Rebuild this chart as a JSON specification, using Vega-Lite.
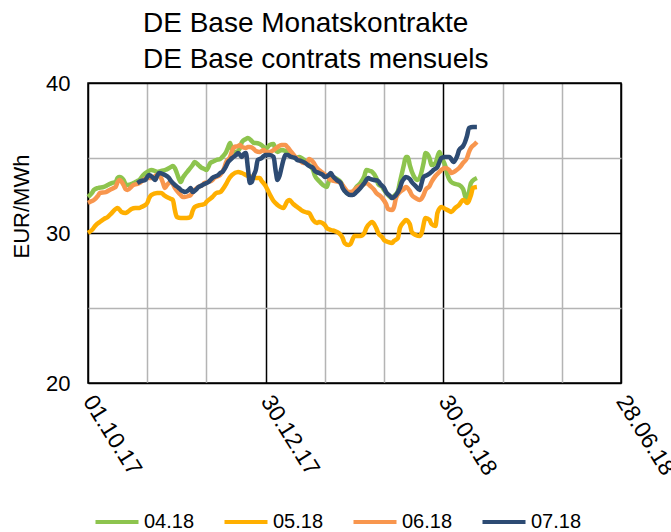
{
"$schema":"https://vega.github.io/schema/vega-lite/v6.json",
"width":533,"height":300,
"autosize":{"type":"none"},
"padding":{"left":88,"top":83,"right":50,"bottom":149},
"background":"white",
"config":{"font":"Liberation Sans","view":{"stroke":"black","strokeWidth":1.5}},
"title":{"text":["DE Base Monatskontrakte","DE Base contrats mensuels"],"anchor":"start","frame":"group","dx":55,"fontSize":28,"fontWeight":"normal","lineHeight":36,"color":"black","offset":-2},
"datasets":{
"g":[
["2017-10-01",32.4],["2017-10-03",32.67],["2017-10-04",32.87],["2017-10-06",33.0],["2017-10-09",33.07],["2017-10-11",33.2],["2017-10-13",33.33],["2017-10-15",33.4],["2017-10-16",33.67],["2017-10-17",33.73],["2017-10-19",33.53],["2017-10-20",33.27],["2017-10-21",33.2],["2017-10-24",33.33],["2017-10-26",33.47],["2017-10-27",33.53],["2017-10-29",33.87],["2017-10-31",34.07],["2017-11-02",34.2],["2017-11-04",34.13],["2017-11-05",34.07],["2017-11-07",34.13],["2017-11-09",34.2],["2017-11-12",34.4],["2017-11-13",34.47],["2017-11-14",34.33],["2017-11-15",34.0],["2017-11-17",33.4],["2017-11-18",33.67],["2017-11-19",33.87],["2017-11-21",34.2],["2017-11-23",34.53],["2017-11-24",34.73],["2017-11-26",34.53],["2017-11-27",34.4],["2017-11-29",34.27],["2017-11-30",34.2],["2017-12-02",34.67],["2017-12-04",34.8],["2017-12-05",34.87],["2017-12-07",34.93],["2017-12-08",35.07],["2017-12-10",35.4],["2017-12-11",35.73],["2017-12-12",36.0],["2017-12-13",35.53],["2017-12-15",35.4],["2017-12-17",35.67],["2017-12-18",36.07],["2017-12-20",36.27],["2017-12-21",36.33],["2017-12-23",36.13],["2017-12-24",36.0],["2017-12-25",36.0],["2017-12-27",35.93],["2017-12-29",35.73],["2017-12-30",35.6],["2018-01-01",35.87],["2018-01-03",35.93],["2018-01-04",35.53],["2018-01-05",35.4],["2018-01-07",35.53],["2018-01-09",35.47],["2018-01-11",35.33],["2018-01-12",35.2],["2018-01-14",35.0],["2018-01-16",35.07],["2018-01-19",34.8],["2018-01-21",34.53],["2018-01-23",34.2],["2018-01-24",33.8],["2018-01-26",33.47],["2018-01-28",33.2],["2018-01-30",33.07],["2018-01-31",33.47],["2018-02-02",33.73],["2018-02-04",33.6],["2018-02-06",33.4],["2018-02-08",32.87],["2018-02-09",32.67],["2018-02-11",32.6],["2018-02-12",32.67],["2018-02-14",33.07],["2018-02-16",33.33],["2018-02-18",33.8],["2018-02-19",34.2],["2018-02-21",34.13],["2018-02-22",34.07],["2018-02-24",33.67],["2018-02-25",33.27],["2018-02-27",33.07],["2018-02-28",32.87],["2018-03-02",32.53],["2018-03-04",32.33],["2018-03-05",32.47],["2018-03-07",32.8],["2018-03-08",33.4],["2018-03-10",34.53],["2018-03-11",35.07],["2018-03-12",35.07],["2018-03-13",34.53],["2018-03-15",33.8],["2018-03-17",33.53],["2018-03-18",33.67],["2018-03-20",34.67],["2018-03-21",35.33],["2018-03-23",35.0],["2018-03-24",34.53],["2018-03-26",34.67],["2018-03-28",35.4],["2018-03-29",35.07],["2018-03-31",34.47],["2018-04-01",33.93],["2018-04-03",33.4],["2018-04-05",33.27],["2018-04-07",33.2],["2018-04-09",32.93],["2018-04-10",32.47],["2018-04-11",32.2],["2018-04-12",32.73],["2018-04-13",33.33],["2018-04-15",33.6],["2018-04-16",33.67]],
"y":[
["2017-10-01",30.0],["2017-10-03",30.2],["2017-10-05",30.53],["2017-10-07",30.73],["2017-10-09",30.93],["2017-10-11",31.07],["2017-10-13",31.33],["2017-10-15",31.6],["2017-10-16",31.67],["2017-10-18",31.4],["2017-10-20",31.33],["2017-10-21",31.4],["2017-10-23",31.6],["2017-10-25",31.67],["2017-10-27",31.67],["2017-10-28",31.73],["2017-10-30",31.87],["2017-10-31",32.0],["2017-11-01",32.33],["2017-11-02",32.53],["2017-11-05",32.67],["2017-11-07",32.67],["2017-11-09",32.47],["2017-11-10",32.4],["2017-11-12",32.27],["2017-11-13",32.2],["2017-11-14",31.53],["2017-11-15",31.07],["2017-11-17",31.0],["2017-11-19",31.0],["2017-11-20",31.0],["2017-11-22",31.07],["2017-11-23",31.47],["2017-11-24",31.73],["2017-11-27",31.87],["2017-11-29",31.93],["2017-11-30",32.07],["2017-12-03",32.4],["2017-12-05",32.67],["2017-12-07",32.73],["2017-12-08",32.87],["2017-12-10",33.27],["2017-12-11",33.53],["2017-12-13",33.87],["2017-12-16",34.07],["2017-12-18",34.0],["2017-12-21",33.8],["2017-12-23",33.73],["2017-12-25",33.67],["2017-12-27",33.67],["2017-12-28",33.47],["2017-12-30",33.13],["2018-01-01",32.6],["2018-01-03",32.13],["2018-01-05",31.87],["2018-01-08",31.67],["2018-01-10",32.13],["2018-01-11",32.2],["2018-01-13",31.93],["2018-01-15",31.73],["2018-01-17",31.53],["2018-01-19",31.4],["2018-01-21",31.33],["2018-01-23",30.87],["2018-01-25",30.67],["2018-01-26",30.73],["2018-01-29",30.53],["2018-01-30",30.33],["2018-02-01",30.2],["2018-02-03",30.13],["2018-02-05",30.0],["2018-02-07",29.67],["2018-02-08",29.33],["2018-02-10",29.2],["2018-02-11",29.27],["2018-02-13",29.8],["2018-02-15",29.8],["2018-02-16",29.8],["2018-02-18",30.0],["2018-02-19",30.33],["2018-02-21",30.67],["2018-02-22",30.73],["2018-02-24",30.33],["2018-02-25",30.0],["2018-02-27",29.73],["2018-02-28",29.53],["2018-03-02",29.4],["2018-03-04",29.33],["2018-03-05",29.47],["2018-03-07",29.67],["2018-03-08",30.33],["2018-03-10",30.73],["2018-03-11",30.87],["2018-03-13",30.6],["2018-03-14",30.07],["2018-03-16",29.87],["2018-03-18",29.8],["2018-03-19",30.0],["2018-03-21",31.0],["2018-03-23",30.87],["2018-03-24",30.6],["2018-03-26",30.47],["2018-03-27",31.33],["2018-03-29",31.73],["2018-03-31",31.6],["2018-04-02",31.47],["2018-04-03",31.4],["2018-04-05",31.67],["2018-04-07",31.87],["2018-04-09",32.2],["2018-04-10",32.13],["2018-04-11",32.0],["2018-04-13",32.53],["2018-04-14",33.0],["2018-04-16",33.07]],
"o":[
["2017-10-01",32.0],["2017-10-03",32.13],["2017-10-04",32.2],["2017-10-06",32.47],["2017-10-07",32.67],["2017-10-10",32.73],["2017-10-12",32.87],["2017-10-14",33.0],["2017-10-15",33.07],["2017-10-16",33.4],["2017-10-17",33.53],["2017-10-19",33.2],["2017-10-20",32.93],["2017-10-21",32.87],["2017-10-24",33.2],["2017-10-26",33.27],["2017-10-27",33.33],["2017-10-29",33.53],["2017-10-31",33.67],["2017-11-01",33.67],["2017-11-03",33.67],["2017-11-04",33.8],["2017-11-05",33.87],["2017-11-07",33.67],["2017-11-08",33.33],["2017-11-09",33.0],["2017-11-10",33.2],["2017-11-12",33.4],["2017-11-13",33.27],["2017-11-14",33.0],["2017-11-16",32.67],["2017-11-17",32.53],["2017-11-18",32.4],["2017-11-19",32.4],["2017-11-21",32.47],["2017-11-22",32.53],["2017-11-23",32.73],["2017-11-24",32.87],["2017-11-26",33.07],["2017-11-28",33.2],["2017-11-29",33.33],["2017-12-01",33.4],["2017-12-03",33.53],["2017-12-04",33.67],["2017-12-07",33.87],["2017-12-09",34.33],["2017-12-10",34.73],["2017-12-12",35.07],["2017-12-13",35.47],["2017-12-14",35.73],["2017-12-16",35.8],["2017-12-17",35.87],["2017-12-18",35.73],["2017-12-20",35.67],["2017-12-21",35.73],["2017-12-22",35.73],["2017-12-24",35.6],["2017-12-25",35.47],["2017-12-27",35.4],["2017-12-29",35.53],["2017-12-30",35.4],["2018-01-01",35.4],["2018-01-03",35.53],["2018-01-05",35.73],["2018-01-07",35.87],["2018-01-09",35.87],["2018-01-10",35.73],["2018-01-12",35.4],["2018-01-14",35.07],["2018-01-16",34.87],["2018-01-18",34.67],["2018-01-20",34.67],["2018-01-21",34.93],["2018-01-23",34.73],["2018-01-25",34.33],["2018-01-26",34.2],["2018-01-28",34.0],["2018-01-30",33.8],["2018-02-01",33.53],["2018-02-03",33.47],["2018-02-05",33.4],["2018-02-06",33.33],["2018-02-08",33.0],["2018-02-10",32.73],["2018-02-11",32.73],["2018-02-13",32.87],["2018-02-14",33.0],["2018-02-16",33.13],["2018-02-18",33.27],["2018-02-19",33.33],["2018-02-21",33.13],["2018-02-23",32.87],["2018-02-24",32.67],["2018-02-26",32.47],["2018-02-27",32.33],["2018-03-01",31.93],["2018-03-02",31.6],["2018-03-04",31.53],["2018-03-05",31.73],["2018-03-06",32.33],["2018-03-08",32.73],["2018-03-10",32.93],["2018-03-11",33.07],["2018-03-13",32.8],["2018-03-14",32.53],["2018-03-16",32.33],["2018-03-18",32.2],["2018-03-20",32.53],["2018-03-21",32.87],["2018-03-23",33.13],["2018-03-24",33.4],["2018-03-26",33.8],["2018-03-28",34.07],["2018-03-29",34.2],["2018-03-31",34.33],["2018-04-02",34.2],["2018-04-03",34.0],["2018-04-05",34.13],["2018-04-07",34.33],["2018-04-09",34.67],["2018-04-11",35.0],["2018-04-12",35.4],["2018-04-13",35.67],["2018-04-15",35.93],["2018-04-16",36.07]],
"n":[
["2017-10-26",33.33],["2017-10-28",33.47],["2017-10-30",33.53],["2017-10-31",33.73],["2017-11-01",33.87],["2017-11-03",33.67],["2017-11-04",33.53],["2017-11-05",33.8],["2017-11-06",34.0],["2017-11-08",33.93],["2017-11-09",33.87],["2017-11-11",33.67],["2017-11-12",33.47],["2017-11-13",33.33],["2017-11-14",33.2],["2017-11-16",33.0],["2017-11-17",32.87],["2017-11-18",32.8],["2017-11-19",32.73],["2017-11-21",32.87],["2017-11-22",33.0],["2017-11-23",32.73],["2017-11-25",32.93],["2017-11-26",33.07],["2017-11-27",33.13],["2017-11-28",33.2],["2017-11-30",33.33],["2017-12-01",33.4],["2017-12-02",33.53],["2017-12-03",33.67],["2017-12-05",33.8],["2017-12-06",33.87],["2017-12-07",34.0],["2017-12-08",34.07],["2017-12-10",34.47],["2017-12-11",34.73],["2017-12-12",34.87],["2017-12-13",35.0],["2017-12-15",35.2],["2017-12-16",35.33],["2017-12-17",35.2],["2017-12-18",35.07],["2017-12-19",35.27],["2017-12-20",35.33],["2017-12-21",34.33],["2017-12-22",33.33],["2017-12-23",33.4],["2017-12-24",33.87],["2017-12-25",34.2],["2017-12-26",34.87],["2017-12-28",35.0],["2017-12-29",35.13],["2017-12-30",35.2],["2017-12-31",35.2],["2018-01-01",35.2],["2018-01-03",35.07],["2018-01-04",34.2],["2018-01-05",33.53],["2018-01-06",33.8],["2018-01-07",34.33],["2018-01-08",34.87],["2018-01-09",35.2],["2018-01-10",35.2],["2018-01-12",35.07],["2018-01-14",35.0],["2018-01-15",34.87],["2018-01-17",34.8],["2018-01-19",34.67],["2018-01-21",34.47],["2018-01-23",34.33],["2018-01-24",34.13],["2018-01-26",34.0],["2018-01-28",33.87],["2018-01-29",33.73],["2018-01-31",33.87],["2018-02-01",34.0],["2018-02-02",33.8],["2018-02-04",33.53],["2018-02-06",33.33],["2018-02-07",33.0],["2018-02-09",32.67],["2018-02-11",32.53],["2018-02-12",32.53],["2018-02-14",32.73],["2018-02-16",33.0],["2018-02-18",33.33],["2018-02-20",33.67],["2018-02-21",33.6],["2018-02-23",33.53],["2018-02-25",33.47],["2018-02-26",33.27],["2018-02-28",33.0],["2018-03-01",32.73],["2018-03-03",32.47],["2018-03-04",32.33],["2018-03-05",32.4],["2018-03-06",32.53],["2018-03-08",33.0],["2018-03-09",33.4],["2018-03-10",33.6],["2018-03-11",33.73],["2018-03-13",33.6],["2018-03-14",33.4],["2018-03-16",33.13],["2018-03-18",32.87],["2018-03-19",33.33],["2018-03-20",33.73],["2018-03-22",33.87],["2018-03-24",34.07],["2018-03-25",34.2],["2018-03-27",34.4],["2018-03-28",34.73],["2018-03-29",35.0],["2018-03-31",35.07],["2018-04-02",35.07],["2018-04-03",34.93],["2018-04-04",34.73],["2018-04-06",35.13],["2018-04-07",35.53],["2018-04-09",35.8],["2018-04-10",36.07],["2018-04-11",36.47],["2018-04-12",37.0],["2018-04-14",37.07],["2018-04-16",37.07]]
},
"layer":[
{"data":{"name":"g"},"transform":[{"calculate":"'04.18'","as":"c"}],"mark":{"type":"line","strokeWidth":4.5,"interpolate":"monotone"},
 "encoding":{"x":{"field":"0","type":"temporal"},"y":{"field":"1","type":"quantitative"},"color":{"field":"c","type":"nominal"}}},
{"data":{"name":"y"},"transform":[{"calculate":"'05.18'","as":"c"}],"mark":{"type":"line","strokeWidth":4.5,"interpolate":"monotone"},
 "encoding":{"x":{"field":"0","type":"temporal"},"y":{"field":"1","type":"quantitative"},"color":{"field":"c","type":"nominal"}}},
{"data":{"name":"o"},"transform":[{"calculate":"'06.18'","as":"c"}],"mark":{"type":"line","strokeWidth":4.5,"interpolate":"monotone"},
 "encoding":{"x":{"field":"0","type":"temporal"},"y":{"field":"1","type":"quantitative"},"color":{"field":"c","type":"nominal"}}},
{"data":{"name":"n"},"transform":[{"calculate":"'07.18'","as":"c"}],"mark":{"type":"line","strokeWidth":4.5,"interpolate":"monotone"},
 "encoding":{"x":{"field":"0","type":"temporal","scale":{"type":"utc","domain":[1506816000000,1530144000000]},
   "axis":{"values":[1506816000000,1509408000000,1512000000000,1514592000000,1517184000000,1519776000000,1522368000000,1524960000000,1527552000000,1530144000000],
     "labelExpr":"(datum.value - 1506816000000) % 7776000000 == 0 ? utcFormat(datum.value, '%d.%m.%y') : ''",
     "labelAngle":58,"labelAlign":"left","labelBaseline":"middle","labelFontSize":23,"labelColor":"black","labelPadding":14,"labelOverlap":false,"labelFlush":false,"labelBound":false,
     "ticks":false,"domain":false,"grid":true,"gridWidth":1.5,
     "gridColor":{"condition":{"test":"(datum.value - 1506816000000) % 7776000000 == 0","value":"black"},"value":"#b4b4b4"},
     "title":null}},
  "y":{"field":"1","type":"quantitative","scale":{"domain":[20,40],"nice":false,"zero":false},
   "axis":{"values":[20,25,30,35,40],"labelExpr":"datum.value % 10 == 0 ? datum.label : ''","labelFontSize":22,"labelColor":"black","labelPadding":18,
     "ticks":false,"domain":false,"grid":true,"gridWidth":1.5,
     "gridColor":{"condition":{"test":"datum.value % 10 == 0","value":"black"},"value":"#b4b4b4"},
     "title":"EUR/MWh","titleFontSize":22,"titleFontWeight":"normal","titleColor":"black","titlePadding":12,"titleY":123}},
  "color":{"field":"c","type":"nominal","scale":{"domain":["04.18","05.18","06.18","07.18"],"range":["#8DC44E","#FFAF00","#F8964E","#2D4B73"]},
   "legend":{"orient":"none","legendX":5,"legendY":415,"direction":"horizontal","title":null,"symbolType":"stroke","symbolStrokeWidth":4,"symbolSize":1850,"labelFontSize":20,"labelColor":"black","labelOffset":3,"columnPadding":21}}}}
]
}
